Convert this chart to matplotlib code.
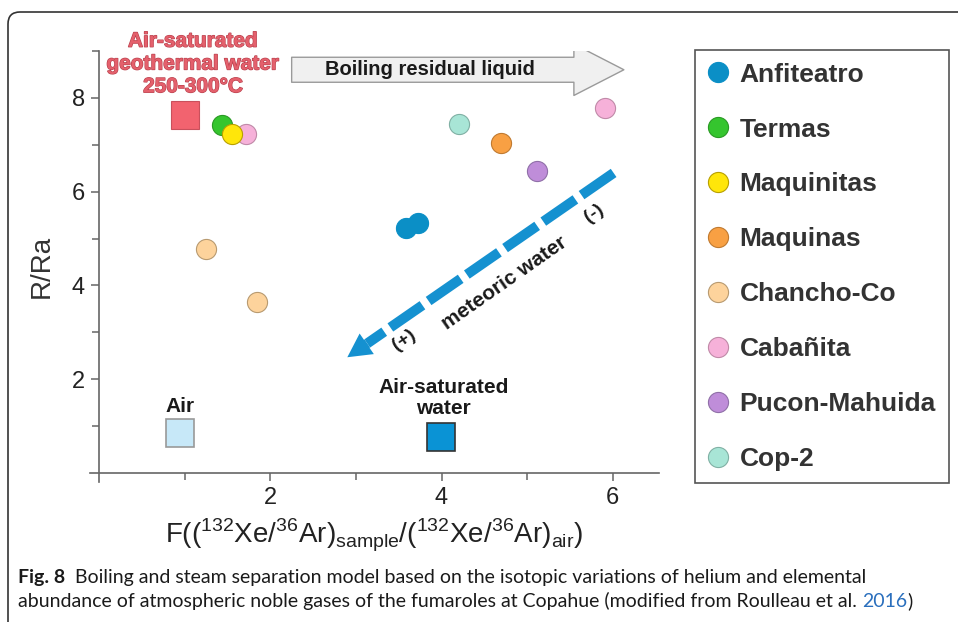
import matplotlib
matplotlib.use("Agg")
import matplotlib.pyplot as plt
from matplotlib.lines import Line2D
from matplotlib.patches import FancyArrowPatch, FancyBboxPatch
import matplotlib.patheffects as pe

plt.rcParams['font.family'] = ['Liberation Sans', 'DejaVu Sans']
plt.rcParams['mathtext.fontset'] = 'custom'
plt.rcParams['mathtext.rm'] = 'Liberation Sans'

# fumarole samples: F(132Xe/36Ar) vs R/Ra
sites = ['Anfiteatro', 'Termas', 'Maquinitas', 'Maquinas', 'Chancho-Co',
         'Cabañita', 'Pucon-Mahuida', 'Cop-2']
site_x = [[3.58, 3.72], [1.44], [1.55], [4.70], [1.25, 1.85], [1.72, 5.91], [5.12], [4.20]]
site_y = [[5.23, 5.34], [7.43], [7.23], [7.04], [4.77, 3.64], [7.23, 7.79], [6.45], [7.45]]
site_colors = ['#0b8fc6', '#35c52e', '#ffe60a', '#f8a043', '#fdd39c',
               '#f6b1d9', '#bf8dd9', '#a8e5d6']
site_edges = ['#0b8fc6', '#2a9a24', '#b8a000', '#c07a30', '#b89a70',
              '#c08aa8', '#9070a8', '#80b0a4']
site_z = [3, 3, 5, 3, 3, 4, 3, 3]

# end-member compositions
asgw_x, asgw_y = 1.00, 7.64     # air-saturated geothermal water 250-300 C
air_x, air_y = 0.95, 0.85
asw_x, asw_y = 3.99, 0.77      # air-saturated water

# trend arrows (data coords)
boil_start, boil_end = (2.25, 8.6), (6.13, 8.6)
meteoric_start, meteoric_tip = (6.01, 6.40), (2.90, 2.47)

fig = plt.figure(figsize=(9.58, 6.22), dpi=100)
W, H = 958, 622
ax = fig.add_axes([90 / W, 1 - 482 / H, 569 / W, 431 / H])
ax.set_xlim(-0.105, 6.54)
ax.set_ylim(-0.19, 9.0)

for s in ['top', 'right']:
    ax.spines[s].set_visible(False)
ax.spines['left'].set_position(('data', 0))
ax.spines['bottom'].set_position(('data', 0))
for s in ['left', 'bottom']:
    ax.spines[s].set_color('#666666')
    ax.spines[s].set_linewidth(1.2)

ax.set_xticks([2, 4, 6])
ax.set_xticks([1, 3, 5], minor=True)
ax.set_yticks([2, 4, 6, 8])
ax.set_yticks([1, 3, 5, 7, 9], minor=True)
ax.tick_params(which='both', direction='out', color='#666666', width=1.1,
               labelsize=17, labelcolor='#222222')
ax.tick_params(which='major', length=6, pad=4)
ax.tick_params(which='minor', length=5)

ax.set_ylabel('R/Ra', fontsize=20, color='#333333')
ax.yaxis.set_label_coords(-0.062, 0.5)
ax.set_xlabel(r'F(($^{\mathregular{132}}$Xe/$^{\mathregular{36}}$Ar)$_{\mathregular{sample}}$'
              r'/($^{\mathregular{132}}$Xe/$^{\mathregular{36}}$Ar)$_{\mathregular{air}}$)',
              fontsize=20, color='#222222', labelpad=6)

# samples
handles = []
for name, xs, ys, c, ec, z in zip(sites, site_x, site_y, site_colors, site_edges, site_z):
    ax.plot(xs, ys, 'o', ms=14.5, mfc=c, mec=ec, mew=0.8, ls='none', zorder=z)
    handles.append(Line2D([], [], marker='o', ls='none', ms=14.5, mfc=c, mec=ec, mew=0.8))

# end members
ax.plot(asgw_x, asgw_y, 's', ms=19.5, mfc='#f2636f', mec='#c9505c', mew=0.8, zorder=3)
ax.plot(air_x, air_y, 's', ms=19.5, mfc='#c7e8f8', mec='#999999', mew=1.2, zorder=3)
ax.plot(asw_x, asw_y, 's', ms=20, mfc='#0a93d5', mec='#333333', mew=1.2, zorder=3)

ax.text(1.1, 9.41, 'Air-saturated\ngeothermal water\n250-300°C', ha='center', va='top',
        fontsize=15, fontweight='bold', color='#e4606c', linespacing=1.25,
        path_effects=[pe.withStroke(linewidth=0.9, foreground='#b8404c')], clip_on=False)
ax.text(air_x, 1.43, 'Air', ha='center', va='center', fontsize=15,
        fontweight='bold', color='#1a1a1a')
ax.text(4.02, 1.6, 'Air-saturated\nwater', ha='center', va='center', fontsize=15,
        fontweight='bold', color='#1a1a1a', linespacing=1.1)

# boiling residual liquid arrow
boil = FancyArrowPatch(boil_start, boil_end, mutation_scale=1,
                       arrowstyle='simple,head_length=36,head_width=37,tail_width=18',
                       fc='#f0f0f0', ec='#9a9a9a', lw=1.0, shrinkA=0, shrinkB=0, zorder=2)
ax.add_patch(boil)
ax.text(3.86, 8.6, 'Boiling residual liquid', ha='center', va='center', fontsize=14.5,
        fontweight='bold', color='#1a1a1a', zorder=3)

# meteoric water dashed arrow
frac = 0.075
head_start = (meteoric_tip[0] + frac * (meteoric_start[0] - meteoric_tip[0]),
              meteoric_tip[1] + frac * (meteoric_start[1] - meteoric_tip[1]))
ax.plot([meteoric_start[0], head_start[0]], [meteoric_start[1], head_start[1]],
        color='#1591d0', lw=7.2, dashes=(3.9, 0.75), solid_capstyle='butt',
        dash_capstyle='butt', zorder=2)
head = FancyArrowPatch(head_start, meteoric_tip, mutation_scale=1,
                       arrowstyle='simple,head_length=17,head_width=18,tail_width=7',
                       fc='#1591d0', ec='none', shrinkA=0, shrinkB=0, zorder=2)
ax.add_patch(head)
ax.text(4.74, 4.05, 'meteoric water', rotation=35, rotation_mode='anchor',
        ha='center', va='center', fontsize=15, fontweight='bold', color='#1a1a1a')
ax.text(5.78, 5.53, '(-)', rotation=35, ha='center', va='center', fontsize=14,
        fontweight='bold', color='#1a1a1a')
ax.text(3.56, 2.83, '(+)', rotation=35, ha='center', va='center', fontsize=14,
        fontweight='bold', color='#1a1a1a')

leg = fig.legend(handles, sites, loc='upper left', bbox_to_anchor=(695 / W, 1 - 50 / H),
                 frameon=True, fancybox=False, edgecolor='#555555', framealpha=1,
                 borderpad=0.48, labelspacing=1.17, handlelength=0.76,
                 handletextpad=0.45, borderaxespad=0,
                 prop={'size': 19, 'weight': 'bold'})
leg.get_frame().set_linewidth(1.2)
for t in leg.get_texts():
    t.set_color('#333333')

# panel frame with rounded top-left corner
frame = FancyBboxPatch((8, -30), 1000, 640, boxstyle='round,pad=0,rounding_size=12',
                       transform=None, fc='none', ec='#333333', lw=1.2)
fig.patches.append(frame)

# caption
cap_font = ['Lato', 'DejaVu Sans']
c1 = fig.text(18 / W, 1 - 578 / H, 'Fig. 8', fontsize=14, fontweight='bold',
              family=cap_font, va='center', color='#1a1a1a')
plt.annotate('  Boiling and steam separation model based on the isotopic variations of '
             'helium and elemental', xy=(1, 0), xycoords=c1, va='bottom',
             fontsize=14, family=cap_font, color='#1a1a1a', annotation_clip=False)
c2 = fig.text(18 / W, 1 - 601 / H, 'abundance of atmospheric noble gases of the fumaroles '
              'at Copahue (modified from Roulleau et al. ', fontsize=14, family=cap_font,
              va='center', color='#1a1a1a')
c3 = plt.annotate('2016', xy=(1, 0), xycoords=c2, va='bottom', fontsize=14,
                  family=cap_font, color='#2a6fbd', annotation_clip=False)
plt.annotate(')', xy=(1, 0), xycoords=c3, va='bottom', fontsize=14,
             family=cap_font, color='#1a1a1a', annotation_clip=False)

fig.savefig('out.png', dpi=100)
